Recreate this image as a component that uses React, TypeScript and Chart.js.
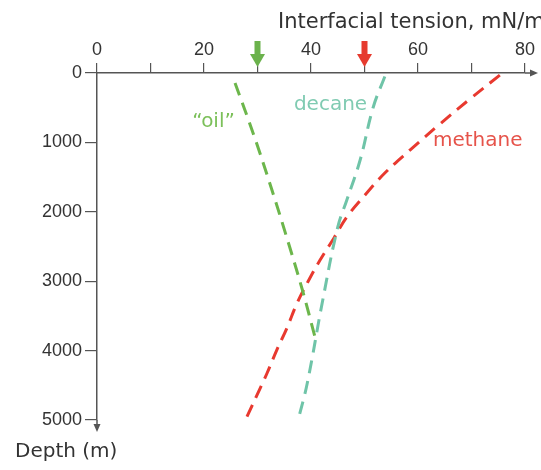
import React, { useEffect, useRef } from 'react';
import { Chart, registerables } from 'chart.js';

Chart.register(...registerables);

// Interfacial tension (mN/m) vs depth (m)
const oilTension = [25.8, 29.3, 32.7, 35.9, 38.5, 40.7];
const oilDepth = [144, 893, 1686, 2479, 3156, 3790];

const decaneTension = [53.8, 51.6, 49.2, 46.7, 45.0, 42.2, 39.3, 37.6];
const decaneDepth = [50, 500, 1250, 1830, 2220, 3270, 4470, 5000];

const methaneTension = [75.3, 69.7, 64.1, 58.5, 53.8, 50.1, 46.7, 44.3, 41.7, 39.5, 37.4, 35.5, 33.6, 31.8, 29.9, 28.0];
const methaneDepth = [30, 375, 735, 1110, 1441, 1758, 2075, 2377, 2695, 2998, 3315, 3675, 3992, 4323, 4640, 4957];

const seriesNames = ['\u201coil\u201d', 'decane', 'methane'];
const seriesColors = ['#6cb64b', '#6fc4a8', '#e8392f'];
const labelColors = ['#7cc05a', '#80cbb2', '#e6534a'];
// label anchors in data coordinates (tension, depth)
const labelTension = [17.8, 36.8, 62.8];
const labelDepth = [778, 533, 1052];

// arrows marking reference tension values
const markerValues = [30, 50];
const markerColors = ['#6bb24c', '#e63b2f'];

const xTickStep = 10;
const xLabelEvery = 20;
const yTickStep = 1000;

const xTitle = 'Interfacial tension, mN/m';
const yTitle = 'Depth (m)';

const toPoints = (xs: number[], ys: number[]) => xs.map((x, i) => ({ x, y: ys[i] }));

const AXIS = '#555555';
const TEXT = '#333333';

const overlay = {
  id: 'overlay',
  afterDraw(chart: any) {
    const ctx = chart.ctx as CanvasRenderingContext2D;
    const { left, right, top, bottom } = chart.chartArea;
    const xs = chart.scales.x;
    const ys = chart.scales.y;
    ctx.save();
    ctx.strokeStyle = AXIS;
    ctx.fillStyle = AXIS;
    ctx.lineWidth = 1.5;
    ctx.beginPath();
    ctx.moveTo(right, top);
    ctx.lineTo(right + 8, top);
    ctx.moveTo(left, bottom);
    ctx.lineTo(left, bottom + 6);
    ctx.stroke();
    ctx.beginPath();
    ctx.moveTo(right + 13, top);
    ctx.lineTo(right + 5, top - 3.5);
    ctx.lineTo(right + 5, top + 3.5);
    ctx.closePath();
    ctx.fill();
    ctx.beginPath();
    ctx.moveTo(left, bottom + 12);
    ctx.lineTo(left - 3.5, bottom + 4);
    ctx.lineTo(left + 3.5, bottom + 4);
    ctx.closePath();
    ctx.fill();

    markerValues.forEach((v, i) => {
      const px = xs.getPixelForValue(v);
      ctx.fillStyle = markerColors[i];
      ctx.fillRect(px - 3, top - 32, 6, 16);
      ctx.beginPath();
      ctx.moveTo(px - 7.5, top - 19);
      ctx.lineTo(px + 7.5, top - 19);
      ctx.lineTo(px, top - 6);
      ctx.closePath();
      ctx.fill();
    });

    ctx.font = '20px "DejaVu Sans"';
    ctx.textAlign = 'left';
    ctx.textBaseline = 'alphabetic';
    seriesNames.forEach((name, i) => {
      ctx.fillStyle = labelColors[i];
      ctx.fillText(name, xs.getPixelForValue(labelTension[i]), ys.getPixelForValue(labelDepth[i]));
    });

    ctx.fillStyle = TEXT;
    ctx.font = '21px "DejaVu Sans"';
    ctx.fillText(xTitle, 278, 28);
    ctx.font = '20px "DejaVu Sans"';
    ctx.fillText(yTitle, 15, 457);
    ctx.restore();
  },
};

export default function App() {
  const ref = useRef<HTMLCanvasElement>(null);
  useEffect(() => {
    if (!ref.current) return;
    const mk = (i: number, xs: number[], ys: number[]) => ({
      label: seriesNames[i],
      data: toPoints(xs, ys),
      showLine: true,
      borderColor: seriesColors[i],
      backgroundColor: seriesColors[i],
      borderWidth: 3,
      borderDash: [13, 8],
      pointRadius: 0,
      tension: 0.4,
      fill: false,
    });
    const chart = new Chart(ref.current, {
      type: 'scatter',
      data: {
        datasets: [
          mk(0, oilTension, oilDepth),
          mk(1, decaneTension, decaneDepth),
          mk(2, methaneTension, methaneDepth),
        ],
      },
      options: {
        responsive: false,
        animation: false,
        layout: { padding: { left: 0, top: 0, right: 16, bottom: 50 } },
        plugins: { legend: { display: false }, tooltip: { enabled: false } },
        scales: {
          x: {
            type: 'linear',
            position: 'top',
            min: 0,
            max: 80,
            afterFit: (s: any) => {
              s.height = 73;
            },
            ticks: {
              stepSize: xTickStep,
              autoSkip: false,
              maxRotation: 0,
              padding: 2,
              color: TEXT,
              font: { family: '"Liberation Sans"', size: 18 },
              callback: (v: any) => (Number(v) % xLabelEvery === 0 ? String(v) : ''),
            },
            grid: { drawOnChartArea: false, drawTicks: true, tickLength: 10, color: AXIS, lineWidth: 1.2 },
            border: { display: true, color: AXIS, width: 1.5 },
          },
          y: {
            type: 'linear',
            position: 'left',
            reverse: true,
            min: 0,
            max: 5000,
            afterFit: (s: any) => {
              s.width = 97;
            },
            ticks: {
              stepSize: yTickStep,
              autoSkip: false,
              padding: 3,
              color: TEXT,
              font: { family: '"Liberation Sans"', size: 18 },
              callback: (v: any) => String(v),
            },
            grid: { drawOnChartArea: false, drawTicks: true, tickLength: 12, color: AXIS, lineWidth: 1.2 },
            border: { display: true, color: AXIS, width: 1.5 },
          },
        },
      } as any,
      plugins: [overlay],
    });
    return () => chart.destroy();
  }, []);
  return (
    <div style={{ position: 'fixed', left: 0, top: 0, width: 541, height: 470, background: '#fff' }}>
      <canvas ref={ref} width={541} height={470} style={{ display: 'block' }} />
    </div>
  );
}
